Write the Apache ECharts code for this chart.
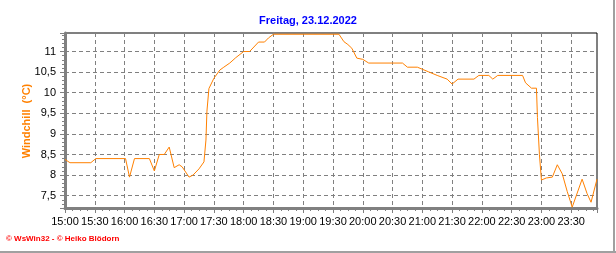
<!DOCTYPE html>
<html><head><meta charset="utf-8">
<script src="https://cdn.jsdelivr.net/npm/echarts@6/dist/echarts.min.js"></script>
<style>html,body{margin:0;padding:0;background:#fff;}#c{width:616px;height:253px;}</style>
</head><body><div id="c"></div>
<script>
// Data
const titleText = 'Freitag, 23.12.2022';
const yName = 'Windchill  (°C)';
const footerText = '© WsWin32 - © Heiko Blödorn';
const times = ['15:00','15:05','15:26','15:31','16:01','16:05','16:10','16:25','16:30','16:35','16:40','16:45','16:50','16:55','16:58',
  '17:05','17:09','17:15','17:20','17:22','17:23','17:25','17:30','17:36','17:40','17:46','17:52','18:00','18:06','18:15','18:21','18:25','18:30',
  '19:36','19:41','19:45','19:49','19:54','20:00','20:06','20:40','20:45','20:55','21:00','21:06','21:15','21:25','21:30','21:36','21:52','21:57',
  '22:07','22:11','22:16','22:41','22:44','22:50','22:55','22:56','22:58','23:00','23:05','23:11','23:16','23:21','23:26','23:30','23:31','23:41','23:46','23:50','23:51','23:56'];
const values = [8.38,8.30,8.30,8.40,8.40,7.95,8.40,8.40,8.10,8.50,8.50,8.68,8.18,8.25,8.20,
  7.95,8.00,8.15,8.32,8.85,9.55,10.10,10.35,10.55,10.62,10.72,10.85,11.00,11.00,11.23,11.23,11.33,11.42,
  11.42,11.24,11.17,11.08,10.84,10.81,10.72,10.72,10.62,10.62,10.57,10.51,10.42,10.33,10.21,10.33,10.33,10.42,
  10.42,10.33,10.42,10.42,10.24,10.11,10.11,9.40,8.50,7.88,7.93,7.95,8.25,8.03,7.60,7.30,7.22,7.90,7.55,7.34,7.30,7.90];
const xTickLabels = ['15:00','15:30','16:00','16:30','17:00','17:30','18:00','18:30','19:00','19:30','20:00','20:30','21:00','21:30','22:00','22:30','23:00','23:30'];
const yTickLabels = ['7,5','8','8,5','9','9,5','10','10,5','11'];

function toMin(s){const p=s.split(':');return (+p[0]-15)*60+(+p[1]);}
const seriesData = times.map((t,i)=>[toMin(t), values[i]]);
const xEnd = toMin(times[times.length-1]);

const chart = echarts.init(document.getElementById('c'), null, {renderer:'canvas'});
const FONT = "'Liberation Sans', Arial, sans-serif";
const gray = '#808080';
chart.setOption({
  animation:false,
  backgroundColor:'#fff',
  title:{text:titleText,left:'center',top:10,textStyle:{color:'#0000ff',fontSize:11,fontWeight:'bold',fontFamily:FONT}},
  grid:{left:65,right:19,top:33,bottom:45,show:true,borderColor:'#000',borderWidth:1,backgroundColor:'transparent'},
  xAxis:{type:'value',min:0,max:xEnd,interval:30,
    axisLine:{show:true,lineStyle:{color:gray,width:3}},
    axisTick:{show:true,length:5,lineStyle:{color:gray,width:1}},
    minorTick:{show:true,splitNumber:4,length:3,lineStyle:{color:gray,width:1}},
    splitLine:{show:true,lineStyle:{color:gray,type:[4,3],width:1}},
    axisLabel:{showMinLabel:true,showMaxLabel:false,hideOverlap:false,margin:8,color:'#000',fontSize:11,fontFamily:FONT,
      formatter:v=>xTickLabels[Math.round(v/30)]||''}},
  yAxis:{type:'value',min:7.2,max:11.45,splitNumber:9,minInterval:0.5,maxInterval:0.5,
    axisLine:{show:true,lineStyle:{color:gray,width:3}},
    axisTick:{show:true,length:5,lineStyle:{color:gray,width:1}},
    minorTick:{show:true,splitNumber:5,length:3,lineStyle:{color:gray,width:1}},
    splitLine:{show:true,lineStyle:{color:gray,type:[4,3],width:1}},
    axisLabel:{showMinLabel:false,showMaxLabel:false,margin:9,color:'#000',fontSize:11,fontFamily:FONT,
      formatter:v=>{const i=Math.round((v-7.5)/0.5);return (Math.abs(v-(7.5+i*0.5))<1e-6)?(yTickLabels[i]||''):'';}}},
  series:[{type:'line',data:seriesData,showSymbol:false,lineStyle:{color:'#ff8000',width:1},itemStyle:{color:'#ff8000'},z:5}],
  graphic:[
    {type:'text',x:27,y:121,rotation:Math.PI/2,style:{text:yName,fill:'#ff8000',align:'center',verticalAlign:'middle',font:"bold 11px 'Liberation Sans', Arial, sans-serif"}},
    {type:'text',left:6,top:235,style:{text:footerText,fill:'#ff0000',font:"bold 8px 'Liberation Sans', Arial, sans-serif"}},
    {type:'rect',shape:{x:613,y:0,width:2,height:253},style:{fill:'#a0a0a0'}},
    {type:'rect',shape:{x:0,y:251,width:616,height:2},style:{fill:'#a0a0a0'}}
  ]
});
</script></body></html>
